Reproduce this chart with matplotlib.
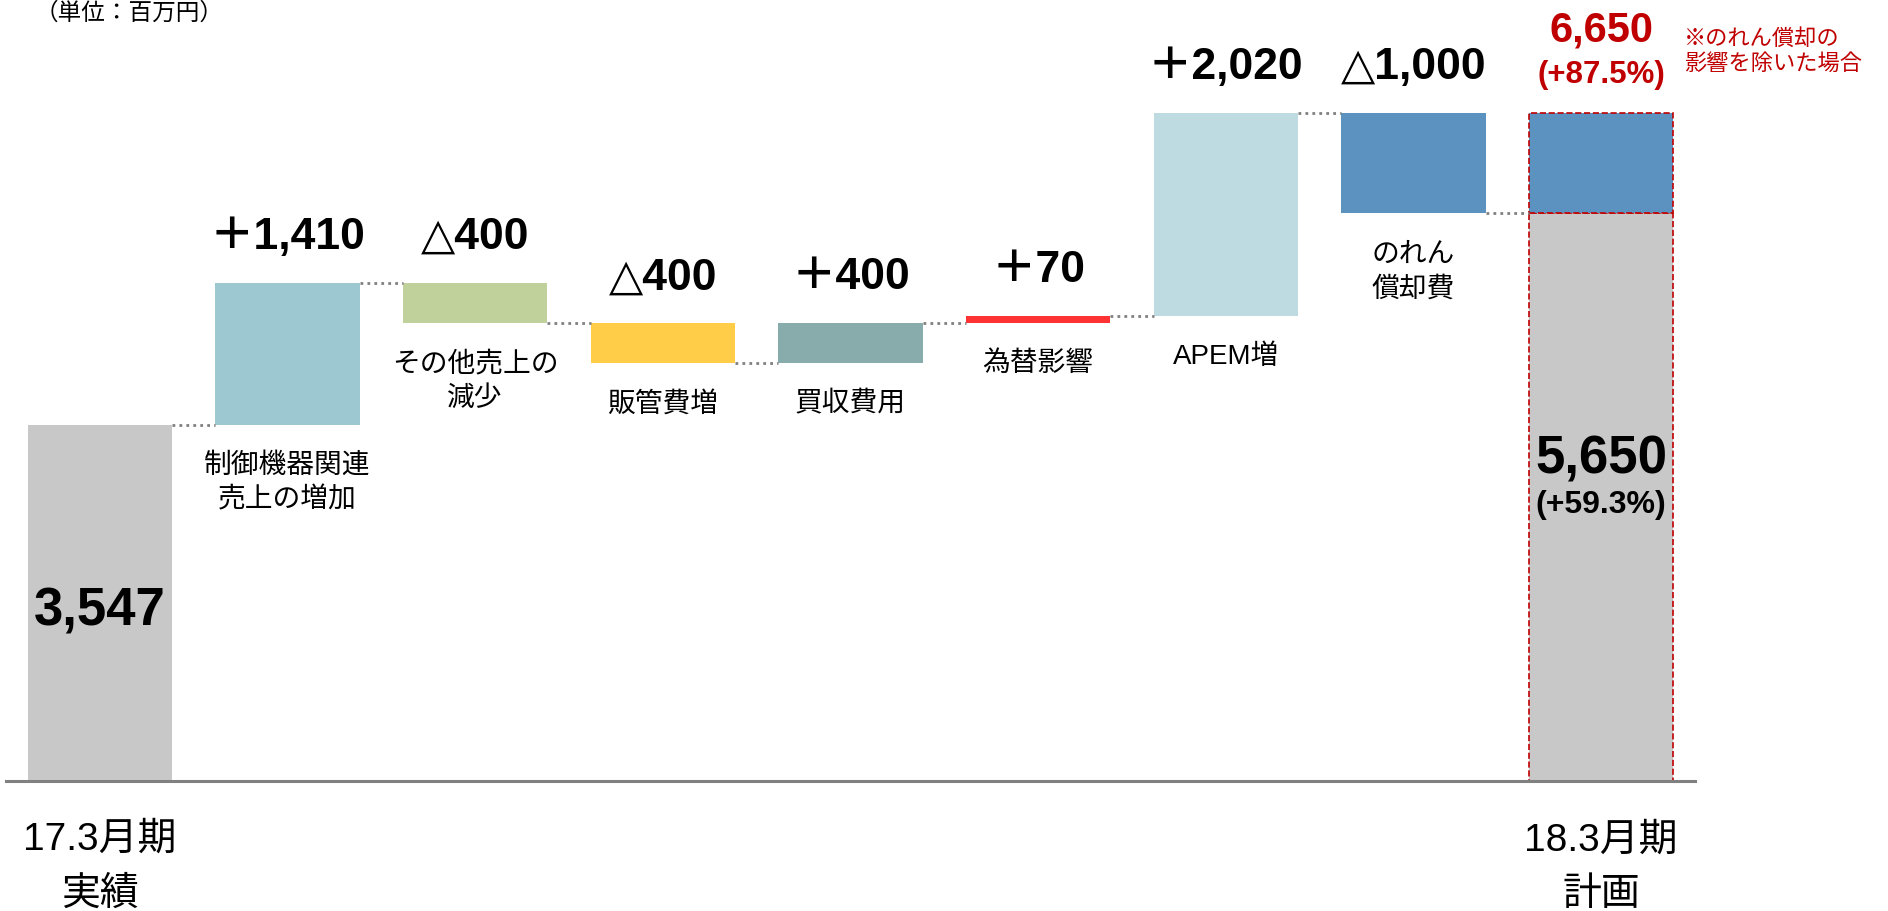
import numpy as np
import matplotlib.pyplot as plt

plt.rcParams['font.family'] = ['Liberation Sans', 'Noto Sans CJK JP']

# data (百万円)
start_label = '17.3月期\n実績'
end_label = '18.3月期\n計画'
start_value = 3547
end_value = 5650
goodwill = 1000
step_labels = ['制御機器関連\n売上の増加', 'その他売上の\n減少', '販管費増', '買収費用',
               '為替影響', 'APEM増', 'のれん\n償却費']
step_values = [1410, -400, -400, 400, 70, 2020, -1000]
step_texts = ['＋1,410', '△400', '△400', '＋400', '＋70', '＋2,020', '△1,000']
step_colors = ['#9DC8D1', '#C0D19C', '#FFCD47', '#88ACAB', '#FF3333', '#BEDBE1', '#5B92C0']
start_text = '3,547'
end_text = '5,650'
end_pct = '(+59.3%)'
adj_text = '6,650'
adj_pct = '(+87.5%)'
note = '※のれん償却の\n影響を除いた場合'
unit = '（単位：百万円）'

red = '#C00000'
gray = '#C8C8C8'
w = 0.77

fig = plt.figure(figsize=(18.88, 9.12), dpi=100)
ax = fig.add_axes([6 / 1888, 130 / 912, 1689 / 1888, 703.5 / 912])

x = np.arange(len(step_values) + 2)
cum = start_value + np.cumsum([0] + step_values)
bottoms = np.minimum(cum[:-1], cum[1:])
tops = np.maximum(cum[:-1], cum[1:])

ax.bar(x[0], start_value, w, color=gray)
ax.bar(x[1:-1], np.abs(step_values), w, bottom=bottoms, color=step_colors)
ax.bar(x[-1], end_value, w, color=gray, edgecolor=red, linestyle='--', linewidth=1.2)
ax.bar(x[-1], goodwill, w, bottom=end_value, color='#5B92C0', edgecolor=red,
       linestyle='--', linewidth=1.2)

# dotted connectors
for i in range(len(cum)):
    ax.plot([x[i] + w / 2, x[i + 1] - w / 2], [cum[i], cum[i]], color='#808080',
            linestyle=(0, (1, 1.5)), linewidth=2)

# step value labels and category labels
sym_font = ['Liberation Sans', 'DejaVu Sans', 'Noto Sans CJK JP']
for i, (lab, txt) in enumerate(zip(step_labels, step_texts)):
    ax.text(x[i + 1], tops[i] + 460, txt, ha='center', va='center',
            fontsize=32, fontweight='bold', family=sym_font)
    ax.text(x[i + 1], bottoms[i] - 270, lab, ha='center', va='top',
            fontsize=20, linespacing=1.43)

ax.text(x[0], 1700, start_text, ha='center', va='center',
        fontsize=38, fontweight='bold')
ax.text(x[-1], 3210, end_text, ha='center', va='center', fontsize=38, fontweight='bold')
ax.text(x[-1], 2760, end_pct, ha='center', va='center', fontsize=23, fontweight='bold')
ax.text(x[-1], 7480, adj_text, ha='center', va='center', fontsize=30,
        fontweight='bold', color=red)
ax.text(x[-1], 7035, adj_pct, ha='center', va='center', fontsize=22.5,
        fontweight='bold', color=red)
ax.text(8.44, 7265, note, ha='left', va='center', fontsize=16, color=red,
        linespacing=1.3)

for xi, lab in [(x[0], start_label), (x[-1], end_label)]:
    ax.text(xi, -850, lab, ha='center', va='center', fontsize=28, linespacing=1.65)

fig.text(35 / 1888, 1 - 13 / 912, unit, fontsize=17, va='center')

ax.set_xlim(-0.5, 8.5)
ax.set_ylim(0, 7000)
for s in ['top', 'left', 'right']:
    ax.spines[s].set_visible(False)
ax.spines['bottom'].set_color('#808080')
ax.spines['bottom'].set_linewidth(2.2)
ax.set_xticks([])
ax.set_yticks([])

plt.savefig('out.png', dpi=100)
